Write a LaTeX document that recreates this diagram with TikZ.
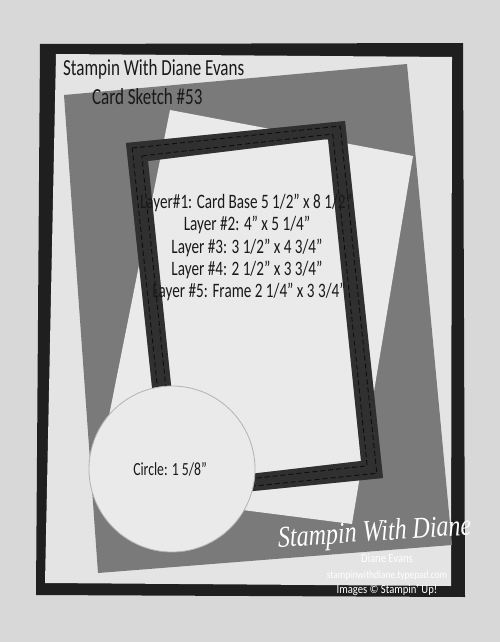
\documentclass[tikz,border=0pt]{standalone}
\usepackage{fontspec}
\setmainfont{Carlito}
\newfontfamily\signfont{Liberation Serif}
\usetikzlibrary{calc}
\definecolor{paperbg}{HTML}{D8D8D8}
\definecolor{basedark}{HTML}{1F1F1F}
\definecolor{cardwhite}{HTML}{E4E4E4}
\definecolor{layerwhite}{HTML}{EAEAEA}
\definecolor{layergray}{HTML}{7A7A7A}
\definecolor{framedark}{HTML}{303030}
\definecolor{stitchdark}{HTML}{0E0E0E}
\begin{document}
\begin{tikzpicture}[x=1pt,y=-1pt,
 sketchtext/.style={font=\fontsize{20.5}{20.5}\selectfont,xscale=0.74,inner sep=0pt,text=black!90},
 titletext/.style={font=\fontsize{23}{23}\selectfont,xscale=0.74,inner sep=0pt,text=black!90,anchor=base west},
 marktext/.style={font=\fontsize{12}{12}\selectfont,xscale=0.85,inner sep=0pt,text=white,anchor=base},
 stitch/.style={draw=stitchdark,line width=0.9pt,dash pattern=on 5pt off 3pt}]
 \useasboundingbox (0,0) rectangle (500,642);
 \fill[paperbg] (0,0) rectangle (500,642);
 \coordinate (base1) at (40,44);
 \coordinate (base2) at (463,43);
 \coordinate (base3) at (465,597);
 \coordinate (base4) at (36,595);
 \fill[basedark] (base1) -- (base2) -- (base3) -- (base4) -- cycle;
 \coordinate (white1) at (56,54);
 \coordinate (white2) at (452,57);
 \coordinate (white3) at (451,586);
 \coordinate (white4) at (45,583);
 \fill[cardwhite] (white1) -- (white2) -- (white3) -- (white4) -- cycle;
 \coordinate (gray1) at (64,95);
 \coordinate (gray2) at (407,64);
 \coordinate (gray3) at (452,545);
 \coordinate (gray4) at (98,573);
 \fill[layergray] (gray1) -- (gray2) -- (gray3) -- (gray4) -- cycle;
 \coordinate (top1) at (170,110);
 \coordinate (top2) at (413,156);
 \coordinate (top3) at (352,524);
 \coordinate (top4) at (94,491);
 \fill[layerwhite] (top1) -- (top2) -- (top3) -- (top4) -- cycle;
 \coordinate (fo1) at (126,143);
 \coordinate (fo2) at (345,121);
 \coordinate (fo3) at (383,478);
 \coordinate (fo4) at (164,500);
 \coordinate (fi1) at (148,161);
 \coordinate (fi2) at (328,139);
 \coordinate (fi3) at (361,461);
 \coordinate (fi4) at (181,482);
 \begin{scope}[shift={(-3,3)}]
  \fill[black,opacity=0.3,even odd rule] (fo1) -- (fo2) -- (fo3) -- (fo4) -- cycle (fi1) -- (fi2) -- (fi3) -- (fi4) -- cycle;
 \end{scope}
 \fill[framedark,even odd rule] (fo1) -- (fo2) -- (fo3) -- (fo4) -- cycle (fi1) -- (fi2) -- (fi3) -- (fi4) -- cycle;
 \draw[stitch] ($(fo1)!0.28!(fi1)$) -- ($(fo2)!0.28!(fi2)$) -- ($(fo3)!0.28!(fi3)$) -- ($(fo4)!0.28!(fi4)$) -- cycle;
 \draw[stitch] ($(fo1)!0.72!(fi1)$) -- ($(fo2)!0.72!(fi2)$) -- ($(fo3)!0.72!(fi3)$) -- ($(fo4)!0.72!(fi4)$) -- cycle;
 \node (circle) at (172,469) [shape=circle,minimum size=166pt,inner sep=0pt,fill=layerwhite,draw=black!30,line width=0.8pt] {};
 \node (title) at (63,75) [titletext] {Stampin With Diane Evans};
 \node (sketchno) at (92,104) [titletext] {Card Sketch \#53};
 \node (layer1) at (246,208) [sketchtext,anchor=base] {Layer\#1: Card Base 5 1/2” x 8 1/2”};
 \node (layer2) at (247,230) [sketchtext,anchor=base] {Layer \#2: 4” x 5 1/4”};
 \node (layer3) at (247,253) [sketchtext,anchor=base] {Layer \#3: 3 1/2” x 4 3/4”};
 \node (layer4) at (247,275) [sketchtext,anchor=base] {Layer \#4: 2 1/2” x 3 3/4”};
 \node (layer5) at (249,297) [sketchtext,anchor=base] {Layer \#5: Frame 2 1/4” x 3 3/4”};
 \node (circletext) at (170,475) [sketchtext,font=\fontsize{18.5}{18.5}\selectfont,anchor=base] {Circle: 1 5/8”};
 \node (signature) at (375,541) [font=\signfont\itshape\fontsize{30}{30}\selectfont,xscale=0.8,rotate=3,inner sep=0pt,text=white,anchor=base] {Stampin With Diane};
 \node (markname) at (387,562) [marktext,font=\fontsize{12.5}{12.5}\selectfont] {Diane Evans};
 \node (markurl) at (387,578) [marktext,font=\fontsize{11}{11}\selectfont] {stampinwithdiane.typepad.com};
 \node (markimg) at (387,593) [marktext,font=\fontsize{12.5}{12.5}\selectfont] {Images © Stampin’ Up!};
\end{tikzpicture}
\end{document}
